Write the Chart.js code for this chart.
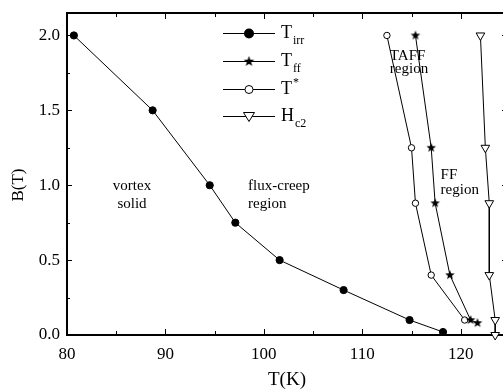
<!DOCTYPE html>
<html>
<head>
<meta charset="utf-8">
<script src="https://cdn.jsdelivr.net/npm/chart.js@4.4.0/dist/chart.umd.min.js"></script>
<style>
html, body { margin: 0; padding: 0; overflow: hidden; background: #fff; }
#graphique { width: 520px; height: 390px; }
</style>
</head>
<body>
<div id="graphique"><canvas id="myChart" width="520" height="390"></canvas></div>
<script>
// donnees
var tIrr = [80.7, 88.7, 94.5, 97.1, 101.6, 108.1, 114.8, 118.2];
var bIrr = [2.0, 1.5, 1.0, 0.75, 0.5, 0.3, 0.1, 0.02];
var tFf = [115.4, 117.0, 117.4, 118.9, 121.0, 121.7];
var bFf = [2.0, 1.25, 0.88, 0.4, 0.1, 0.08];
var tStar = [112.5, 115.0, 115.4, 117.0, 120.4];
var bStar = [2.0, 1.25, 0.88, 0.4, 0.1];
var tHc2 = [122.0, 122.5, 122.9, 122.9, 123.5, 123.5];
var bHc2 = [2.0, 1.25, 0.88, 0.4, 0.1, 0.0];
var xTicks = [80, 90, 100, 110, 120];
var yTicks = [0.0, 0.5, 1.0, 1.5, 2.0];
var xLabel = 'T(K)';
var yLabel = 'B(T)';
var legendNames = [['T', 'irr', 'sub'], ['T', 'ff', 'sub'], ['T', '*', 'sup'], ['H', 'c2', 'sub']];
var regionText = [
    {lines: ['vortex', 'solid'], x: 86.6, y: [0.967, 0.845], align: 'center'},
    {lines: ['flux-creep', 'region'], x: 98.4, y: [0.967, 0.845], align: 'left'},
    {lines: ['TAFF', 'region'], x: 112.8, y: [1.833, 1.749], align: 'left'},
    {lines: ['FF', 'region'], x: 117.95, y: [1.044, 0.944], align: 'left'}
];

var police = "'Liberation Serif', 'Times New Roman', serif";

function points(xs, ys)
{
    return xs.map(function(v, i){ return {x: v, y: ys[i]}; });
}

function makeStar(r)
{
    var c = document.createElement('canvas');
    var s = Math.ceil(r * 2) + 2;
    c.width = s; c.height = s;
    var g = c.getContext('2d');
    g.beginPath();
    for (var i = 0; i < 10; i++)
    {
        var a = -Math.PI / 2 + i * Math.PI / 5;
        var rr = (i % 2) ? r * 0.42 : r;
        g.lineTo(s / 2 + rr * Math.cos(a), s / 2 + rr * Math.sin(a));
    }
    g.closePath();
    g.fillStyle = '#000';
    g.fill();
    return c;
}
var etoile = makeStar(5);
var etoileLegende = makeStar(5.5);

function drawMarker(ctx, kind, x, y)
{
    ctx.save();
    ctx.lineWidth = 1;
    ctx.strokeStyle = '#000';
    if (kind == 'dot')
    {
        ctx.beginPath(); ctx.arc(x, y, 5, 0, Math.PI * 2);
        ctx.fillStyle = '#000'; ctx.fill();
    }
    else if (kind == 'star')
    {
        ctx.drawImage(etoileLegende, x - etoileLegende.width / 2, y - etoileLegende.height / 2);
    }
    else if (kind == 'ring')
    {
        ctx.beginPath(); ctx.arc(x, y, 4, 0, Math.PI * 2);
        ctx.fillStyle = '#fff'; ctx.fill(); ctx.stroke();
    }
    else
    {
        ctx.beginPath();
        ctx.moveTo(x - 5.5, y - 4); ctx.lineTo(x + 5.5, y - 4); ctx.lineTo(x, y + 5);
        ctx.closePath();
        ctx.fillStyle = '#fff'; ctx.fill(); ctx.stroke();
    }
    ctx.restore();
}

function noPad(s)
{
    s.paddingTop = 0; s.paddingBottom = 0; s.paddingLeft = 0; s.paddingRight = 0;
}

var cadre = {
    id: 'cadre',
    beforeDatasetsDraw: function(chart)
    {
        var ctx = chart.ctx, a = chart.chartArea;
        var sx = chart.scales.x, sy = chart.scales.y;
        ctx.save();
        ctx.strokeStyle = '#000';
        ctx.lineWidth = 1;
        var v, px;
        for (v = 80; v <= 124.7; v += 5)
        {
            px = Math.round(sx.getPixelForValue(v)) + 0.5;
            var l = (v % 10 == 0) ? 6 : 4;
            ctx.beginPath();
            ctx.moveTo(px, a.bottom); ctx.lineTo(px, a.bottom - l);
            ctx.moveTo(px, a.top); ctx.lineTo(px, a.top + l);
            ctx.stroke();
        }
        for (v = 0; v <= 2.1; v += 0.25)
        {
            px = Math.round(sy.getPixelForValue(v)) + 0.5;
            var major = Math.abs(v * 2 - Math.round(v * 2)) < 0.01;
            ctx.beginPath();
            ctx.moveTo(a.left, px); ctx.lineTo(a.left + (major ? 5 : 3), px);
            if (major) { ctx.moveTo(a.right, px); ctx.lineTo(a.right - 5, px); }
            ctx.stroke();
        }
        ctx.lineWidth = 2;
        ctx.strokeRect(a.left, a.top, a.right - a.left, a.bottom - a.top);
        ctx.restore();
    },
    afterDraw: function(chart)
    {
        var ctx = chart.ctx, a = chart.chartArea;
        var sx = chart.scales.x, sy = chart.scales.y;
        ctx.save();
        ctx.fillStyle = '#000';

        // titres des axes
        ctx.font = '19px ' + police;
        ctx.textAlign = 'center';
        ctx.textBaseline = 'alphabetic';
        ctx.fillText(xLabel, 287, 385);
        ctx.save();
        ctx.translate(23, 185);
        ctx.rotate(-Math.PI / 2);
        ctx.font = '17px ' + police;
        ctx.fillText(yLabel, 0, 0);
        ctx.restore();

        // regions
        ctx.font = '15px ' + police;
        regionText.forEach(function(r)
        {
            ctx.textAlign = r.align;
            r.lines.forEach(function(t, i)
            {
                ctx.fillText(t, sx.getPixelForValue(r.x), sy.getPixelForValue(r.y[i]));
            });
        });

        // legende
        var kinds = ['dot', 'star', 'ring', 'tri'];
        var rows = [33, 61, 89, 116];
        ctx.textAlign = 'left';
        for (var i = 0; i < 4; i++)
        {
            var y = rows[i];
            ctx.lineWidth = 1;
            ctx.strokeStyle = '#000';
            ctx.beginPath(); ctx.moveTo(223, y + 0.5); ctx.lineTo(275, y + 0.5); ctx.stroke();
            drawMarker(ctx, kinds[i], 249, y + 0.5);
            var n = legendNames[i];
            ctx.font = '18px ' + police;
            ctx.fillText(n[0], 281, y + 5);
            var w = ctx.measureText(n[0]).width;
            ctx.font = '12px ' + police;
            ctx.fillText(n[1], 281 + w + 1, n[2] == 'sub' ? y + 11 : y - 3);
        }
        ctx.restore();
    }
};

var ctx = document.getElementById('myChart').getContext('2d');
var myChart = new Chart(ctx, {
    type: 'scatter',
    data: {
        datasets: [
        {
            label: 'T_irr',
            data: points(tIrr, bIrr),
            showLine: true,
            borderColor: '#000',
            borderWidth: 1,
            pointStyle: 'circle',
            pointRadius: 3.6,
            pointBackgroundColor: '#000',
            pointBorderColor: '#000',
            pointBorderWidth: 1,
            clip: false
        },
        {
            label: 'T_ff',
            data: points(tFf, bFf),
            showLine: true,
            borderColor: '#000',
            borderWidth: 1,
            pointStyle: etoile,
            pointRadius: 5,
            clip: false
        },
        {
            label: 'T*',
            data: points(tStar, bStar),
            showLine: true,
            borderColor: '#000',
            borderWidth: 1,
            pointStyle: 'circle',
            pointRadius: 3.2,
            pointBackgroundColor: '#fff',
            pointBorderColor: '#000',
            pointBorderWidth: 1,
            clip: false
        },
        {
            label: 'H_c2',
            data: points(tHc2, bHc2),
            showLine: true,
            borderColor: '#000',
            borderWidth: 1,
            pointStyle: 'triangle',
            pointRotation: 180,
            pointRadius: 5,
            pointBackgroundColor: '#fff',
            pointBorderColor: '#000',
            pointBorderWidth: 1,
            clip: false
        }
        ]
    },
    options: {
        responsive: false,
        animation: false,
        events: [],
        layout: { padding: { top: 13, right: 13, left: 0, bottom: 0 } },
        elements: { line: { tension: 0 } },
        plugins: { legend: { display: false }, tooltip: { enabled: false } },
        scales: {
            x: {
                type: 'linear',
                min: 80,
                max: 124.7,
                grid: { display: false, drawTicks: false },
                border: { display: false },
                ticks: {
                    color: '#000',
                    font: { family: police, size: 17 },
                    padding: 9,
                    maxRotation: 0,
                    callback: function(v){ return v; }
                },
                afterBuildTicks: function(s){ s.ticks = xTicks.map(function(v){ return {value: v}; }); },
                afterFit: function(s){ s.height = 55; noPad(s); }
            },
            y: {
                type: 'linear',
                min: 0,
                max: 2.15,
                grid: { display: false, drawTicks: false },
                border: { display: false },
                ticks: {
                    color: '#000',
                    font: { family: police, size: 17 },
                    padding: 7,
                    callback: function(v){ return v.toFixed(1); }
                },
                afterBuildTicks: function(s){ s.ticks = yTicks.map(function(v){ return {value: v}; }); },
                afterFit: function(s){ s.width = 67; noPad(s); }
            }
        }
    },
    plugins: [cadre]
});
</script>
</body>
</html>
